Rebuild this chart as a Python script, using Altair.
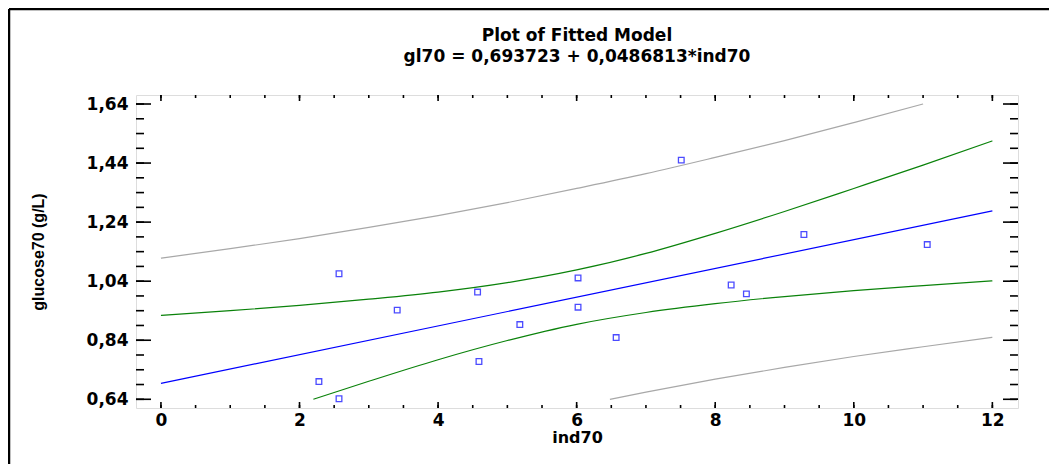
import altair as alt
import pandas as pd

TITLE = "Plot of Fitted Model"
SUBTITLE = "gl70 = 0,693723 + 0,0486813*ind70"

x_obs = [2.28, 2.57, 2.57, 3.41, 4.57, 4.59, 5.18, 6.02, 6.02, 6.57, 7.51, 8.23, 8.45, 9.28, 11.06]
y_obs = [0.700, 0.642, 1.065, 0.942, 1.003, 0.768, 0.893, 1.051, 0.952, 0.849, 1.450, 1.027, 0.997, 1.198, 1.164]

# fitted line end points
fit_x = [0, 12]
fit_y = [0.6937, 1.2779]

# confidence limits (green)
cu_x = [0, 1, 2, 3, 4, 5, 6, 7, 8, 9, 10, 11, 12]
cu_y = [0.924, 0.940, 0.958, 0.979, 1.003, 1.035, 1.078, 1.134, 1.202, 1.276, 1.354, 1.433, 1.515]
cl_x = [2.2, 3, 4, 5, 6, 7, 8, 9, 10, 11, 12]
cl_y = [0.640, 0.701, 0.774, 0.839, 0.894, 0.934, 0.964, 0.988, 1.008, 1.025, 1.041]

# prediction limits (gray)
pu_x = [0, 1, 2, 3, 4, 5, 6, 7, 8, 9, 10, 11]
pu_y = [1.118, 1.150, 1.184, 1.222, 1.262, 1.306, 1.354, 1.404, 1.459, 1.516, 1.577, 1.640]
pl_x = [6.48, 7, 8, 9, 10, 11, 12]
pl_y = [0.640, 0.664, 0.708, 0.748, 0.785, 0.818, 0.850]

x_major = [0, 2, 4, 6, 8, 10, 12]
x_minor = [v / 2 for v in range(0, 25)]
y_major = [0.64, 0.84, 1.04, 1.24, 1.44, 1.64]
y_minor = [round(0.64 + 0.05 * i, 2) for i in range(0, 21)]

W, H = 882, 313
PL, PT, PR, PB = 128, 87, 31, 56
FONT = "DejaVu Sans"
FONT2 = "Liberation Sans"

xs = alt.Scale(domain=[-0.36, 12.37], nice=False, zero=False)
ys = alt.Scale(domain=[0.6105, 1.6705], nice=False, zero=False)

xaxis = alt.Axis(values=x_major, ticks=False, domain=False, grid=False,
                 labelFont=FONT, labelFontSize=17, labelFontWeight="bold", labelColor="black",
                 labelPadding=4, title="ind70", titleFont=FONT, titleFontSize=16,
                 titleFontWeight="bold", titleColor="black", titlePadding=1)
yaxis = alt.Axis(values=y_major, ticks=False, domain=False, grid=False,
                 labelExpr="replace(format(datum.value, '.2f'), '.', ',')",
                 labelFont=FONT, labelFontSize=17, labelFontWeight="bold", labelColor="black",
                 labelPadding=8, title="glucose70 (g/L)", titleFont=FONT2, titleFontSize=16,
                 titleFontWeight="bold", titleColor="black", titlePadding=40)

X = lambda f="x:Q": alt.X(f, scale=xs, axis=xaxis)
Y = lambda f="y:Q": alt.Y(f, scale=ys, axis=yaxis)

pts = pd.DataFrame({"x": x_obs, "y": y_obs})

points = alt.Chart(pts).mark_square(filled=False, size=32, color="#0000ff", strokeWidth=1.3).encode(
    x=X(), y=Y())

def curve(xv, yv, color):
    return alt.Chart(pd.DataFrame({"x": xv, "y": yv})).mark_line(
        color=color, strokeWidth=1.2, interpolate="monotone").encode(x=X(), y=Y())

fit = curve(fit_x, fit_y, "#0000ff")
cu = curve(cu_x, cu_y, "#0a820a")
cl = curve(cl_x, cl_y, "#0a820a")
pu = curve(pu_x, pu_y, "#a8a8a8")
pl = curve(pl_x, pl_y, "#a8a8a8")

def yticks(vals, length):
    d = pd.DataFrame({"y": vals})
    left = alt.Chart(d).mark_rule(color="black", strokeWidth=1.6).encode(
        y=Y(), x=alt.value(0), x2=alt.value(length))
    right = alt.Chart(d).mark_rule(color="black", strokeWidth=1.6).encode(
        y=Y(), x=alt.value(W - length), x2=alt.value(W))
    return left + right

def xticks(vals, length):
    d = pd.DataFrame({"x": vals})
    top = alt.Chart(d).mark_rule(color="black", strokeWidth=1.6).encode(
        x=X(), y=alt.value(0), y2=alt.value(length))
    bot = alt.Chart(d).mark_rule(color="black", strokeWidth=1.6).encode(
        x=X(), y=alt.value(H - length), y2=alt.value(H))
    return top + bot

one = pd.DataFrame({"k": [0]})
border_top = alt.Chart(one).mark_rule(color="black", strokeWidth=2.5).encode(
    x=alt.value(-PL + 1), x2=alt.value(W + PR), y=alt.value(-PT + 1))
border_left = alt.Chart(one).mark_rule(color="black", strokeWidth=2.5).encode(
    x=alt.value(-PL + 1), y=alt.value(-PT + 1), y2=alt.value(H + PB))

titles = pd.DataFrame({"t": [TITLE, SUBTITLE], "row": [0, 1]})
title_txt = alt.Chart(titles).transform_filter("datum.row == 0").mark_text(
    font=FONT, fontSize=17, fontWeight="bold", color="black", align="center", baseline="alphabetic"
).encode(text="t:N", x=alt.value(W / 2), y=alt.value(-54))
sub_txt = alt.Chart(titles).transform_filter("datum.row == 1").mark_text(
    font=FONT, fontSize=17, fontWeight="bold", color="black", align="center", baseline="alphabetic"
).encode(text="t:N", x=alt.value(W / 2), y=alt.value(-33))

chart = alt.layer(
    pu, pl, cu, cl, fit, points,
    yticks(y_minor, 8), yticks(y_major, 15), xticks(x_minor, 3), xticks(x_major, 6),
    border_top, border_left, title_txt, sub_txt,
).properties(
    width=W, height=H,
    padding={"left": PL, "top": PT, "right": PR, "bottom": PB},
    autosize=alt.AutoSizeParams(type="none"),
).configure_view(stroke="black", strokeWidth=2).configure(background="white")

chart.save("out.html", embed_options={"renderer": "svg", "actions": False})
